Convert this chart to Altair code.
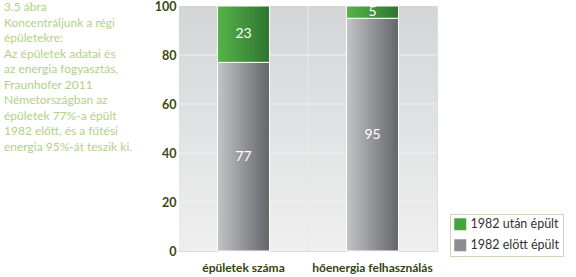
import altair as alt
import pandas as pd

categories = ["épületek száma", "hőenergia felhasználás"]
before_1982 = [77, 95]
after_1982 = [23, 5]
series_names = ["1982 után épült", "1982 elött épült"]
y_ticks = [0, 20, 40, 60, 80, 100]
grid_vals = [20, 40, 60, 80]
note_lines = [
    "3.5 ábra",
    "Koncentráljunk a régi",
    "épületekre:",
    "Az épületek adatai és",
    "az energia fogyasztás,",
    "Fraunhofer 2011",
    "Németországban az",
    "épületek 77%-a épült",
    "1982 előtt, és a fűtési",
    "energia 95%-át teszik ki.",
]

rows = []
for c, b, a in zip(categories, before_1982, after_1982):
    rows.append({"cat": c, "series": series_names[1], "y0": 0, "y1": b, "mid": b / 2, "label": str(b)})
    rows.append({"cat": c, "series": series_names[0], "y0": b, "y1": b + a, "mid": b + a / 2, "label": str(a)})
df = pd.DataFrame(rows)

W, H = 258, 245
FONT = "Lato"

xscale = alt.Scale(domain=categories, paddingInner=0, paddingOuter=0)
yscale = alt.Scale(domain=[0, 100], nice=False)

x_axis = alt.Axis(labelAngle=0, ticks=False, domain=False, grid=False, bandPosition=0.5,
                  labelAlign="center",
                  labelFont=FONT, labelFontWeight="bold", labelFontSize=12,
                  labelColor="#34420f", labelPadding=11)
x_enc = alt.X("cat:N", scale=xscale, sort=categories, title=None, axis=x_axis)
y_enc = alt.Y("y0:Q", scale=yscale, title=None,
              axis=alt.Axis(values=y_ticks, ticks=False, grid=False, domainColor="#b3cc8c",
                            labelFont=FONT, labelFontWeight="bold", labelFontSize=12.5,
                            labelColor="#3a4a10", labelPadding=3))

bg_grad = alt.LinearGradient(gradient="linear", x1=0, x2=0, y1=0, y2=1,
                             stops=[alt.GradientStop(color="#d3d5d7", offset=0),
                                    alt.GradientStop(color="#efefef", offset=1)])
green_grad = alt.LinearGradient(gradient="linear", x1=0, x2=1, y1=0, y2=0,
                                stops=[alt.GradientStop(color="#55b547", offset=0),
                                       alt.GradientStop(color="#2f7432", offset=1)])
gray_grad = alt.LinearGradient(gradient="linear", x1=0, x2=1, y1=0, y2=0,
                               stops=[alt.GradientStop(color="#c3c4c7", offset=0),
                                      alt.GradientStop(color="#646569", offset=1)])

background = alt.Chart(alt.Data(values=[{}])).mark_rect(fill=bg_grad).encode(
    x=alt.value(0), x2=alt.value(W), y=alt.value(0), y2=alt.value(H))

hgrid = alt.Chart(pd.DataFrame({"v": grid_vals})).mark_rule(color="#f2f2f2", strokeWidth=1).encode(
    y=alt.Y("v:Q", scale=yscale, title=None))

vgrid = alt.Chart(pd.DataFrame({"cat": categories[1:]})).mark_rule(color="#e9e9e9", strokeWidth=1).encode(
    x=alt.X("cat:N", scale=xscale, sort=categories, bandPosition=0, title=None, axis=x_axis))

base_bars = alt.Chart(df).mark_bar(width=alt.RelativeBandSize(0.403), stroke="white", strokeWidth=1).encode(
    x=x_enc,
    y=y_enc,
    y2="y1:Q",
    fill=alt.Fill("series:N", scale=alt.Scale(domain=series_names, range=["#46a43c", "#8c8d91"]),
                  legend=alt.Legend(title=None, orient="none", legendX=271, legendY=208,
                                    strokeColor="#c8d4b4", fillColor="white", padding=4,
                                    symbolType="square", symbolSize=144, symbolStrokeWidth=0,
                                    labelFont=FONT, labelFontSize=12.5, labelColor="#333333",
                                    rowPadding=8, labelOffset=4)),
)

gray_bars = alt.Chart(df).transform_filter(alt.datum.series == series_names[1]).mark_bar(
    width=alt.RelativeBandSize(0.403), fill=gray_grad, stroke="white", strokeWidth=1).encode(
    x=alt.X("cat:N", scale=xscale, sort=categories), y=alt.Y("y0:Q", scale=yscale), y2="y1:Q")

green_bars = alt.Chart(df).transform_filter(alt.datum.series == series_names[0]).mark_bar(
    width=alt.RelativeBandSize(0.403), fill=green_grad, stroke="white", strokeWidth=1).encode(
    x=alt.X("cat:N", scale=xscale, sort=categories), y=alt.Y("y0:Q", scale=yscale), y2="y1:Q")

labels = alt.Chart(df).mark_text(color="white", font=FONT, fontSize=14, baseline="middle").encode(
    x=alt.X("cat:N", scale=xscale, sort=categories), y=alt.Y("mid:Q", scale=yscale), text="label:N")

note = alt.Chart(pd.DataFrame({"t": ["\n".join(note_lines)]})).mark_text(
    align="left", baseline="top", font=FONT, fontSize=12, color="#b2d188",
    lineBreak="\n", lineHeight=15.5).encode(
    x=alt.value(-175), y=alt.value(-4), text="t:N")

chart = alt.layer(background, hgrid, vgrid, base_bars, gray_bars, green_bars, labels, note).properties(
    width=W, height=H,
    autosize=alt.AutoSizeParams(type="none"),
    padding={"left": 179, "top": 6, "right": 139, "bottom": 26},
).configure_view(stroke="#b3cc8c", strokeWidth=1).configure(background="white")

chart.save("out.html", embed_options={"renderer": "svg", "actions": False})
